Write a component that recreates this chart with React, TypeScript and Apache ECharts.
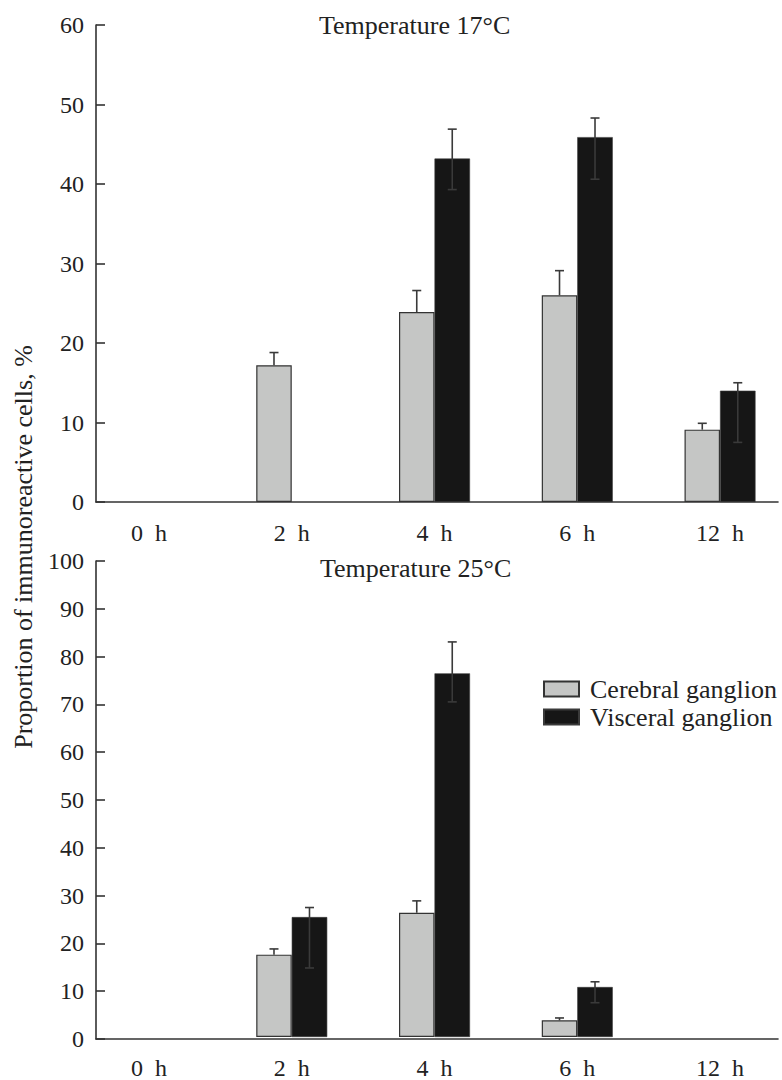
import React, { useEffect, useRef } from "react";
import * as echarts from "echarts";

const categories = ["0\u2002h", "2\u2002h", "4\u2002h", "6\u2002h", "12\u2002h"];

// Temperature 17°C
const t17Cerebral = [null, 17.2, 23.9, 26.0, 9.1];
const t17CerebralHigh = [null, 18.8, 26.6, 29.1, 9.9];
const t17Visceral = [null, null, 43.2, 45.9, 14.0];
const t17VisceralHigh = [null, null, 46.9, 48.3, 15.0];
const t17VisceralLow = [null, null, 39.3, 40.6, 7.5];

// Temperature 25°C
const t25Cerebral = [null, 17.3, 26.1, 3.5, null];
const t25CerebralHigh = [null, 18.5, 28.6, 4.0, null];
const t25Visceral = [null, 25.2, 76.4, 10.5, null];
const t25VisceralHigh = [null, 27.2, 83.0, 11.6, null];
const t25VisceralLow = [null, 14.5, 70.4, 7.2, null];

const topTicksMax = 60;
const bottomTicksMax = 100;
const tickStep = 10;

const FONT = "'Liberation Serif', 'Times New Roman', serif";
const GRAY = "#c5c6c5";
const BLACK = "#161616";
const AXIS = "#333333";
const BAR_W = 35.5;
const CANVAS_W = 800;

function errData(vals: (number | null)[], low: (number | null)[] | null, high: (number | null)[]) {
  const out: number[][] = [];
  vals.forEach((v, i) => {
    if (v == null || high[i] == null) return;
    const lo = low ? (low[i] as number) : (v as number);
    out.push([i, lo, high[i] as number]);
  });
  return out;
}

function makeErrSeries(name: string, data: number[][], axisIdx: number, offset: number, lowerCap: boolean) {
  return {
    type: "custom",
    name,
    xAxisIndex: axisIdx,
    yAxisIndex: axisIdx,
    z: 10,
    silent: true,
    data,
    encode: { x: 0, y: [1, 2] },
    renderItem: (params: any, api: any) => {
      const c = api.value(0);
      const lo = api.value(1);
      const hi = api.value(2);
      const pTop = api.coord([c, hi]);
      const pBot = api.coord([c, lo]);
      const x = pTop[0] + offset;
      const cap = 4.5;
      const style = { stroke: "#3a3a3a", lineWidth: 1.6 };
      const children: any[] = [
        { type: "line", shape: { x1: x, y1: pTop[1], x2: x, y2: pBot[1] }, style },
        { type: "line", shape: { x1: x - cap, y1: pTop[1], x2: x + cap, y2: pTop[1] }, style },
      ];
      if (lowerCap) {
        children.push({ type: "line", shape: { x1: x - cap, y1: pBot[1], x2: x + cap, y2: pBot[1] }, style });
      }
      return { type: "group", children };
    },
  };
}

function frameAxes(gridIdx: number, max: number) {
  const x = {
    gridIndex: gridIdx,
    type: "value",
    min: 0,
    max: 1,
    axisLine: { show: true, lineStyle: { color: AXIS, width: 1.6 } },
    axisTick: { show: false },
    axisLabel: { show: false },
    splitLine: { show: false },
  };
  const y = {
    gridIndex: gridIdx,
    type: "value",
    min: 0,
    max,
    interval: tickStep,
    axisLine: { show: true, lineStyle: { color: AXIS, width: 1.6 } },
    axisTick: { show: true, inside: true, length: 9, lineStyle: { color: AXIS, width: 1.6 } },
    axisLabel: { fontSize: 24, fontFamily: FONT, color: "#222", margin: 12 },
    splitLine: { show: false },
  };
  return { x, y };
}

function barAxes(gridIdx: number, max: number) {
  const x = {
    gridIndex: gridIdx,
    type: "category",
    data: categories,
    axisLine: { show: false },
    axisTick: { show: false },
    axisLabel: { fontSize: 24, fontFamily: FONT, color: "#222", margin: 19 },
    splitLine: { show: false },
  };
  const y = { gridIndex: gridIdx, type: "value", min: 0, max, show: false };
  return { x, y };
}

export default function App() {
  const ref = useRef<HTMLDivElement>(null);
  useEffect(() => {
    if (!ref.current) return;
    const chart = echarts.init(ref.current, null, { renderer: "svg" });
    const a0 = barAxes(0, topTicksMax);
    const f1 = frameAxes(1, topTicksMax);
    const a2 = barAxes(2, bottomTicksMax);
    const f3 = frameAxes(3, bottomTicksMax);
    const barStyleGray = { color: GRAY, borderColor: "#333", borderWidth: 1.2 };
    const barStyleBlack = { color: BLACK, borderColor: "#3a3a3a", borderWidth: 0.6 };
    const barLeft = 77.6;
    const barRight = CANVAS_W - 791.4;
    const frameRight = CANVAS_W - 778;
    const option: any = {
      animation: false,
      backgroundColor: "#ffffff",
      title: [
        {
          text: "Temperature 17°C",
          left: 319,
          top: 12,
          padding: 0,
          textStyle: { fontSize: 26, fontWeight: "normal", fontFamily: FONT, color: "#222" },
        },
        {
          text: "Temperature 25°C",
          left: 320,
          top: 555,
          padding: 0,
          textStyle: { fontSize: 26, fontWeight: "normal", fontFamily: FONT, color: "#222" },
        },
      ],
      legend: {
        orient: "vertical",
        left: 543,
        top: 676,
        padding: 0,
        itemWidth: 35,
        itemHeight: 15,
        itemGap: 2,
        icon: "rect",
        data: ["Cerebral ganglion", "Visceral ganglion"],
        textStyle: { fontSize: 26, fontFamily: FONT, color: "#222", padding: [0, 0, 0, 6] },
      },
      grid: [
        { left: barLeft, right: barRight, top: 25, height: 477 },
        { left: 96, right: frameRight, top: 25, height: 477 },
        { left: barLeft, right: barRight, top: 561, height: 478 },
        { left: 96, right: frameRight, top: 561, height: 478 },
      ],
      xAxis: [a0.x, f1.x, a2.x, f3.x],
      yAxis: [a0.y, f1.y, a2.y, f3.y],
      graphic: [
        {
          type: "text",
          x: 23,
          y: 547,
          rotation: Math.PI / 2,
          style: {
            text: "Proportion of immunoreactive cells, %",
            fontSize: 26,
            fontFamily: FONT,
            fill: "#222",
            align: "center",
            verticalAlign: "middle",
          },
        },
      ],
      series: [
        {
          type: "bar",
          name: "Cerebral ganglion",
          xAxisIndex: 0,
          yAxisIndex: 0,
          data: t17Cerebral,
          barWidth: BAR_W,
          barGap: "0%",
          itemStyle: barStyleGray,
        },
        {
          type: "bar",
          name: "Visceral ganglion",
          xAxisIndex: 0,
          yAxisIndex: 0,
          data: t17Visceral,
          barWidth: BAR_W,
          barGap: "0%",
          itemStyle: barStyleBlack,
        },
        {
          type: "bar",
          name: "Cerebral ganglion",
          xAxisIndex: 2,
          yAxisIndex: 2,
          data: t25Cerebral,
          barWidth: BAR_W,
          barGap: "0%",
          itemStyle: barStyleGray,
        },
        {
          type: "bar",
          name: "Visceral ganglion",
          xAxisIndex: 2,
          yAxisIndex: 2,
          data: t25Visceral,
          barWidth: BAR_W,
          barGap: "0%",
          itemStyle: barStyleBlack,
        },
        makeErrSeries("err17c", errData(t17Cerebral, null, t17CerebralHigh), 0, -BAR_W / 2, false),
        makeErrSeries("err17v", errData(t17Visceral, t17VisceralLow, t17VisceralHigh), 0, BAR_W / 2, true),
        makeErrSeries("err25c", errData(t25Cerebral, null, t25CerebralHigh), 2, -BAR_W / 2, false),
        makeErrSeries("err25v", errData(t25Visceral, t25VisceralLow, t25VisceralHigh), 2, BAR_W / 2, true),
      ],
    };
    chart.setOption(option);
    return () => chart.dispose();
  }, []);
  return (
    <div
      style={{
        position: "absolute",
        left: 0,
        top: 0,
        width: 782,
        height: 1080,
        overflow: "hidden",
        background: "#fff",
      }}
    >
      <div ref={ref} style={{ width: CANVAS_W, height: 1080 }} />
    </div>
  );
}
